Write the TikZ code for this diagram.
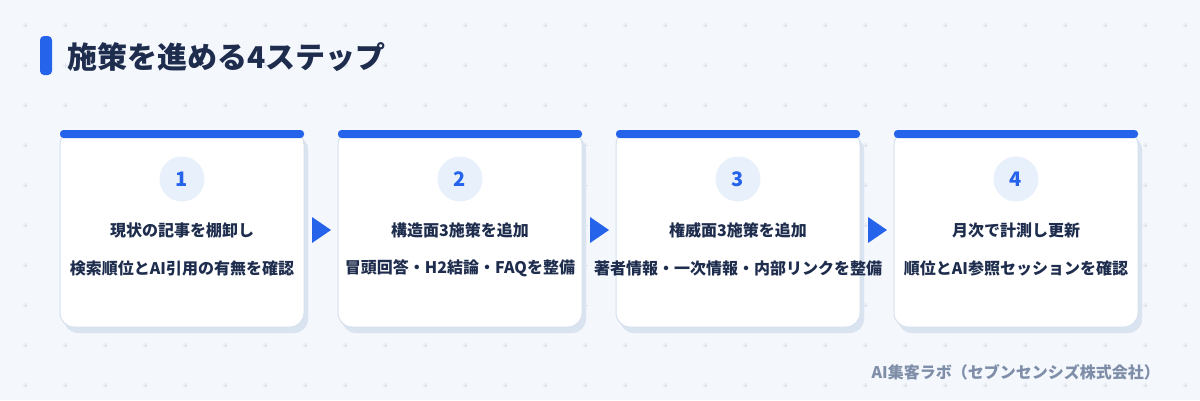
\documentclass[tikz,border=0pt]{standalone}
\usepackage{fontspec}
\setmainfont{Noto Sans CJK JP}
\definecolor{bg}{HTML}{F4F7FC}
\definecolor{accent}{HTML}{2563EB}
\definecolor{ink}{HTML}{1E2D4D}
\definecolor{muted}{HTML}{7F8EA8}
\definecolor{cardline}{HTML}{D6E1EF}
\definecolor{shadowc}{HTML}{DAE3F0}
\definecolor{dotc}{HTML}{DCE3EE}
\definecolor{circfill}{HTML}{E8F0FC}
\tikzset{
  x=1pt, y=-1pt,
  cardtext/.style={font=\bfseries\fontsize{16}{19}\selectfont, text=ink, inner sep=0pt},
  numtext/.style={circle, fill=circfill, minimum size=45pt, inner sep=0pt, font=\bfseries\fontsize{20}{24}\selectfont, text=accent},
  arrowtri/.style={fill=accent},
}
\begin{document}
\begin{tikzpicture}
\fill[bg] (0,0) rectangle (1200,400);
\useasboundingbox (0,0) rectangle (1200,400);
% background crosses
\foreach \i in {0,...,29}{
  \foreach \j in {0,...,9}{
    \draw[dotc, line width=0.8pt] ({25+40*\i-2.5},{25+40*\j}) -- ({25+40*\i+2.5},{25+40*\j});
    \draw[dotc, line width=0.8pt] ({25+40*\i},{25+40*\j-2.5}) -- ({25+40*\i},{25+40*\j+2.5});
  }
}
% title
\fill[accent, rounded corners=4pt] (40,36) rectangle (52,75);
\node[anchor=west, inner sep=0pt, font=\bfseries\fontsize{30}{35}\selectfont, text=ink] (title) at (67,57) {施策を進める4ステップ};
% cards
\foreach \k/\num/\la/\lb in {
  0/1/現状の記事を棚卸し/検索順位とAI引用の有無を確認,
  1/2/構造面3施策を追加/冒頭回答・H2結論・FAQを整備,
  2/3/権威面3施策を追加/著者情報・一次情報・内部リンクを整備,
  3/4/月次で計測し更新/順位とAI参照セッションを確認}{
  \pgfmathsetmacro{\xa}{60+278*\k}
  \pgfmathsetmacro{\xb}{\xa+244}
  \pgfmathsetmacro{\xc}{\xa+122}
  \fill[shadowc, rounded corners=14pt] (\xa+4,136) rectangle (\xb+4,333);
  \filldraw[fill=white, draw=cardline, line width=1pt, rounded corners=14pt] (\xa,131) rectangle (\xb,327);
  \fill[accent, rounded corners=3.5pt] (\xa,130) rectangle (\xb,138);
  \node[numtext] (n\num) at (\xc,179) {\num};
  \node[cardtext] (a\num) at (\xc,230) {\la};
  \node[cardtext] (b\num) at (\xc,268) {\lb};
}
% arrows between cards
\foreach \k in {0,1,2}{
  \pgfmathsetmacro{\xm}{304+278*\k+8}
  \fill[arrowtri] (\xm,217) -- (\xm+19,230) -- (\xm,243) -- cycle;
}
% footer
\node[anchor=east, inner sep=0pt, font=\bfseries\fontsize{16}{19}\selectfont, text=muted] (footer) at (1160,372) {AI集客ラボ（セブンセンシズ株式会社）};
\end{tikzpicture}
\end{document}
